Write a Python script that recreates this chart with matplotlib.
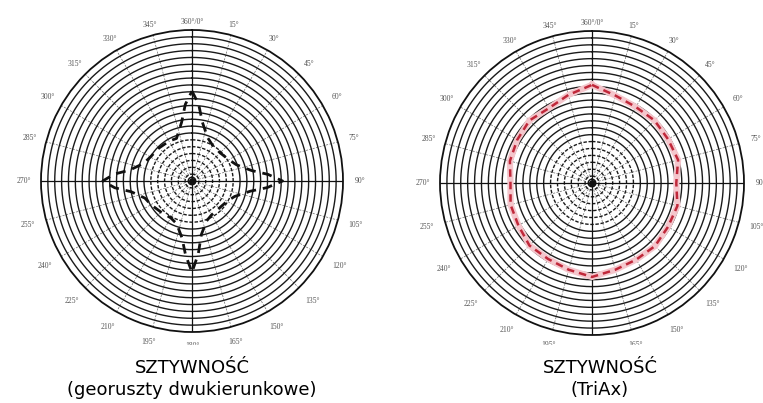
import numpy as np
import matplotlib.pyplot as plt
from matplotlib.patches import Rectangle

W, H = 763, 403
N_RINGS = 22

# etykiety kątów co 15 stopni
label_deg = list(range(0, 360, 15))
label_txt = ['360°/0°'] + [f'{d}°' for d in label_deg[1:]]

# georuszty dwukierunkowe - kąt [°] i sztywność [nr okręgu]
biax_deg = [0, 5, 10, 20, 30, 45, 60, 70, 80, 85,
            90, 95, 100, 110, 120, 135, 150, 160, 170, 175,
            180, 185, 190, 200, 210, 225, 240, 250, 260, 265,
            270, 275, 280, 290, 300, 315, 330, 340, 350, 355, 360]
biax_r = [13.1, 11.2, 8.7, 6.7, 6.0, 5.8, 6.2, 6.9, 8.8, 11.1,
          13.2, 11.0, 8.6, 6.6, 5.9, 5.6, 5.7, 6.2, 7.9, 10.6,
          13.3, 10.8, 8.4, 6.6, 6.2, 6.4, 6.9, 7.3, 9.0, 11.3,
          13.0, 11.4, 9.2, 7.5, 7.0, 6.8, 6.7, 6.6, 8.7, 11.2, 13.1]

# TriAx
triax_deg = [0, 15, 30, 45, 60, 75, 90, 105, 120, 135, 150, 165,
             180, 195, 210, 225, 240, 255, 270, 285, 300, 315, 330, 345, 360]
triax_r = [14.2, 13.1, 12.7, 12.8, 12.7, 12.9, 12.2, 12.8, 12.7, 12.9, 12.8, 13.0,
           13.6, 13.0, 12.7, 12.8, 12.3, 12.2, 11.8, 12.3, 12.5, 12.8, 12.5, 13.2, 14.2]


def siatka(ax):
    ax.set_theta_zero_location('N')
    ax.set_theta_direction(-1)
    ax.set_ylim(0, N_RINGS)
    ax.grid(False)
    ax.set_xticks([])
    ax.set_yticks([])
    ax.spines['polar'].set_linewidth(1.3)
    ax.spines['polar'].set_color('#111111')

    t = np.linspace(0, 2 * np.pi, 361)
    for k in range(1, N_RINGS):
        ls = (0, (2.5, 1.2)) if k <= 6 else '-'
        ax.plot(t, np.full_like(t, k), color='#1a1a1a', lw=1.0, ls=ls, zorder=2)
    ax.plot(t, np.full_like(t, 0.55), color='#111111', lw=1.0, zorder=2)
    ax.plot([0], [0], 'o', color='#111111', ms=4, zorder=3)

    for d in label_deg:
        th = np.radians(d)
        if d % 90 == 0:
            ax.plot([th, th], [0, N_RINGS], color='#111111', lw=0.9, zorder=2)
        else:
            ax.plot([th, th], [1, N_RINGS], color='#666666', lw=0.5,
                    ls=(0, (3, 2)), zorder=1)

    for d, txt in zip(label_deg, label_txt):
        th = np.radians(d)
        rr = N_RINGS * (1.05 + 0.065 * abs(np.sin(th)) + 0.04 * max(0.0, -np.cos(th)))
        ax.text(th, rr, txt, ha='center', va='center', fontsize=5.5,
                color='#555555', clip_on=False, family='Liberation Serif')


fig = plt.figure(figsize=(W / 100, H / 100), dpi=100)

ax1 = fig.add_axes([41 / W, 1 - 332 / H, 302 / W, 302 / H], projection='polar')
siatka(ax1)
ax1.plot(np.radians(biax_deg), biax_r, color='#111111', lw=2.0,
         ls=(0, (3.5, 2.5)), zorder=4)

ax2 = fig.add_axes([440 / W, 1 - 335 / H, 304 / W, 304 / H], projection='polar')
siatka(ax2)
ax2.plot(np.radians(triax_deg), triax_r, color='#f4c6cc', lw=4.5, zorder=3)
ax2.plot(np.radians(triax_deg), triax_r, color='#c0283a', lw=1.8,
         ls=(0, (3, 2)), zorder=4)

# obraz jest ucięty pod kołami
fig.add_artist(Rectangle((0, 0), 1, 58 / H, transform=fig.transFigure,
                         color='white', zorder=5))

fig.text(192 / W, 1 - 368 / H, 'SZTYWNOŚĆ', ha='center', va='center',
         fontsize=13, zorder=6)
fig.text(192 / W, 1 - 390 / H, '(georuszty dwukierunkowe)', ha='center',
         va='center', fontsize=13, zorder=6)
fig.text(600 / W, 1 - 368 / H, 'SZTYWNOŚĆ', ha='center', va='center',
         fontsize=13, zorder=6)
fig.text(600 / W, 1 - 390 / H, '(TriAx)', ha='center', va='center',
         fontsize=13, zorder=6)

fig.savefig('out.png', dpi=100)
